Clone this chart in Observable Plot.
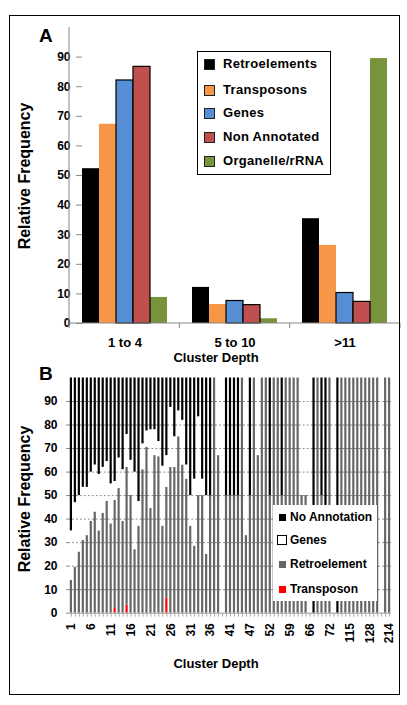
<!DOCTYPE html>
<html><head><meta charset="utf-8">
<script src="https://cdn.jsdelivr.net/npm/d3@7"></script>
<script src="https://cdn.jsdelivr.net/npm/@observablehq/plot@0.6"></script>
<style>
body{margin:0;background:#fff;font-family:"Liberation Sans",Arial,sans-serif;}
#wrap{position:relative;width:407px;height:705px;overflow:hidden;background:#fff;}
.abs{position:absolute;}
.t{position:absolute;font-weight:bold;color:#000;white-space:nowrap;font-family:"Liberation Sans",Arial,sans-serif;}
.rot{transform:translate(-50%,-50%) rotate(-90deg);}
.ctr{transform:translate(-50%,-50%);}
.sw{position:absolute;box-sizing:border-box;}
</style></head><body><div id="wrap"></div>
<script>
// ---------- Panel A data ----------
const groupsA = ["1 to 4", "5 to 10", ">11"];
const seriesA = ["Retroelements", "Transposons", "Genes", "Non Annotated", "Organelle/rRNA"];
const colorsA = ["#000000", "#F79646", "#558ED5", "#C0504D", "#77933C"];
const retroelementsA = [52.3, 12.2, 35.4];
const transposonsA = [67.3, 6.4, 26.4];
const genesA = [82.1, 7.6, 10.3];
const nonAnnotatedA = [86.7, 6.2, 7.3];
const organelleA = [8.8, 1.6, 89.5];
const yTicks = [0, 10, 20, 30, 40, 50, 60, 70, 80, 90];

// ---------- Panel B data ----------
const depthsB = ["1","2","3","4","5","6","7","8","9","10","11","12","13","14","15","16","17","18","19","20",
  "21","22","23","24","25","26","27","28","29","30","31","32","33","34","35","36","37","38","39","40",
  "41","42","43","44","46","47","48","49","50","51","52","53","54","55","57","59","60","61","63","64",
  "66","67","68","69","70","72","76","83","92","104","115","117","120","123","126","128","136","150","168","190","214"];
const typesB = ["Transposon", "Retroelement", "Genes", "No Annotation"];
const colorsB = ["#FF0000", "#666666", "#FFFFFF", "#000000"];
const transposonB = [0,0,0,0,0,0,0,0,0,0, 0,2,0,0,3.5,0,0,0,0,0, 0,0,0,0,6.5,0,0,0,0,0, 0,0,0,0,0,0,0,0,0,0,
  0,0,0,0,0,0,0,0,0,0, 0,0,0,0,0,0,0,0,0,0, 0,0,0,0,0,0,0,0,0,0, 0,0,0,0,0,0,0,0,0,0, 0];
const retroelementB = [14,19.5,26,31,33,39,43,35,42.5,47.5, 38,46,53,39,58.5,50,27,37,61,70.5,
  44.5,67,66.5,37,47,62,62,75,63,57, 37,28.5,50,50,25,50,100,67,0,50,
  50,50,50,100,33,50,100,67,100,100, 50,100,100,50,100,100,100,100,50,50,
  0,0,100,50,30,100,0,0,100,100, 100,100,100,100,100,100,100,100,0,100, 100];
const genesB = [21,27.5,24,22.5,20.5,21,20,24,19.5,17, 17,8,13,22,14,15,33,10.5,11,7,
  33.5,11,6.5,25.5,13.5,25.5,13,11,19,6, 13,28.5,33.5,7,25,0,0,33,100,0,
  0,0,0,0,67,0,0,33,0,0, 0,0,0,0,0,0,0,0,50,50,
  100,0,0,0,0,0,100,0,0,0, 0,0,0,0,0,0,0,0,100,0, 0];
const noAnnotationB = [65,53,50,46.5,46.5,40,37,41,38,35.5, 45,44,34,39,24,35,40,52.5,28,22.5,
  22,22,27,37.5,33,12.5,25,14,18,37, 50,43,16.5,43,50,50,0,0,0,50,
  50,50,50,0,0,50,0,0,0,0, 50,0,0,50,0,0,0,0,0,0,
  0,100,0,50,70,0,0,100,0,0, 0,0,0,0,0,0,0,0,0,0, 0];

const FONT = '"Liberation Sans", Arial, sans-serif';
const wrap = document.getElementById("wrap");

// ---------- Panel A ----------
const arraysA = [retroelementsA, transposonsA, genesA, nonAnnotatedA, organelleA];
const dataA = [];
groupsA.forEach((g, i) => seriesA.forEach((s, j) => dataA.push({group: g, series: s, value: arraysA[j][i]})));
const outlined = ["Genes", "Non Annotated"];

const plotA = Plot.plot({
  width: 407, height: 365,
  marginLeft: 69, marginRight: 7, marginTop: 27, marginBottom: 42,
  style: {fontFamily: FONT, fontWeight: "bold", fontSize: "12px", color: "#000", background: "transparent"},
  fx: {domain: groupsA, paddingInner: 0.23, paddingOuter: 0.115},
  x: {domain: seriesA, padding: 0, axis: null},
  y: {domain: [0, 100]},
  color: {domain: seriesA, range: colorsA},
  marks: [
    Plot.barY(dataA, {fx: "group", x: "series", y: "value", fill: "series"}),
    Plot.barY(dataA, {fx: "group", x: "series", y: "value", fill: "series", stroke: "#000", strokeWidth: 1.2,
      filter: d => outlined.includes(d.series)}),
    Plot.axisY({ticks: yTicks, tickSize: 6, tickPadding: 6, label: null, stroke: "#888", fontSize: 12}),
    Plot.axisFx({anchor: "bottom", tickSize: 0, tickPadding: 14, label: null, fontSize: 13})
  ]
});
plotA.style.position = "absolute"; plotA.style.left = "0px"; plotA.style.top = "0px";
wrap.appendChild(plotA);
// axis lines and category boundary ticks from the plot's scales
{
  const ys = plotA.scale("y");
  const fx = plotA.scale("fx");
  const y0 = ys.apply(0), y100 = ys.apply(100);
  const svg = d3.select(plotA);
  const [r0, r1] = fx.range;
  svg.append("line").attr("x1", r0).attr("x2", r0).attr("y1", y100).attr("y2", y0).attr("stroke", "#888");
  svg.append("line").attr("x1", r0).attr("x2", r1).attr("y1", y0).attr("y2", y0).attr("stroke", "#888");
  const step = (r1 - r0) / groupsA.length;
  for (let k = 0; k <= groupsA.length; k++) {
    const xx = r0 + k * step;
    svg.append("line").attr("x1", xx).attr("x2", xx).attr("y1", y0).attr("y2", y0 + 5).attr("stroke", "#888");
  }
}

// ---------- Panel B ----------
const arraysB = [transposonB, retroelementB, genesB, noAnnotationB];
const dataB = [];
typesB.forEach((t, j) => depthsB.forEach((d, i) => dataB.push({depth: d, type: t, value: arraysB[j][i]})));

const plotB = Plot.plot({
  width: 407, height: 345,
  marginLeft: 69, marginRight: 16, marginTop: 17.5, marginBottom: 92.3,
  style: {fontFamily: FONT, fontWeight: "bold", fontSize: "12px", color: "#000", background: "transparent"},
  x: {domain: depthsB, paddingInner: 0.45, paddingOuter: 0.2},
  y: {domain: [0, 100]},
  color: {domain: typesB, range: colorsB},
  marks: [
    Plot.gridY({ticks: yTicks.slice(1), stroke: "#8a8a8a", strokeOpacity: 1}),
    Plot.barY(dataB, {x: "depth", y: "value", z: "type", fill: "type"}),
    Plot.ruleY([0], {stroke: "#999"}),
    Plot.axisX({ticks: depthsB, tickSize: 4, tickFormat: () => "", label: null, stroke: "#aaa"}),
    Plot.axisX({ticks: depthsB.filter((d, i) => i % 5 === 0), tickSize: 0, tickPadding: 10, tickRotate: -90, label: null, fontSize: 12}),
    Plot.axisY({ticks: yTicks, tickSize: 3, tickPadding: 9, label: null, stroke: "#888", fontSize: 12})
  ]
});
plotB.style.position = "absolute"; plotB.style.left = "0px"; plotB.style.top = "360px";
wrap.appendChild(plotB);

// ---------- HTML text, frame, legends ----------
function addText(txt, css, cls) {
  const d = document.createElement("div");
  d.className = "t" + (cls ? " " + cls : "");
  d.textContent = txt;
  Object.assign(d.style, css);
  wrap.appendChild(d);
  return d;
}
const frame = document.createElement("div");
frame.className = "abs";
Object.assign(frame.style, {left: "9px", top: "15px", width: "391px", height: "680px", border: "1px solid #000", boxSizing: "border-box"});
wrap.appendChild(frame);

addText("A", {left: "39px", top: "26px", fontSize: "19px", lineHeight: "19px"});
addText("B", {left: "39px", top: "364px", fontSize: "19px", lineHeight: "19px"});
addText("Relative Frequency", {left: "25px", top: "176px", fontSize: "16px", lineHeight: "16px"}, "rot");
addText("Relative Frequency", {left: "25px", top: "499px", fontSize: "16px", lineHeight: "16px"}, "rot");
addText("Cluster Depth", {left: "216px", top: "357px", fontSize: "13px", lineHeight: "13px"}, "ctr");
addText("Cluster Depth", {left: "216px", top: "663px", fontSize: "13px", lineHeight: "13px"}, "ctr");

// Legend A
const legA = document.createElement("div");
legA.className = "abs";
Object.assign(legA.style, {left: "197px", top: "51px", width: "134px", height: "124px", border: "1.5px solid #000", background: "#fff", boxSizing: "border-box"});
wrap.appendChild(legA);
const rowsA = [64, 90, 113, 137, 161];
seriesA.forEach((s, i) => {
  const sw = document.createElement("div");
  sw.className = "sw";
  Object.assign(sw.style, {left: "204px", top: (rowsA[i] - 5.5) + "px", width: "11px", height: "11px", background: colorsA[i], border: "1px solid #222"});
  wrap.appendChild(sw);
  addText(s, {left: "223px", top: (rowsA[i] - 7) + "px", fontSize: "13px", lineHeight: "13px", letterSpacing: "0.3px"});
});

// Legend B
const legB = document.createElement("div");
legB.className = "abs";
Object.assign(legB.style, {left: "273px", top: "505px", width: "104px", height: "96px", background: "#fff"});
wrap.appendChild(legB);
const legBItems = ["No Annotation", "Genes", "Retroelement", "Transposon"];
const legBColors = ["#000000", "#FFFFFF", "#666666", "#FF0000"];
const rowsB = [517, 540, 564, 589];
legBItems.forEach((s, i) => {
  const sw = document.createElement("div");
  sw.className = "sw";
  if (s === "Genes") {
    Object.assign(sw.style, {left: "277px", top: (rowsB[i] - 5) + "px", width: "10px", height: "10px", background: "#fff", border: "1px solid #000"});
  } else {
    Object.assign(sw.style, {left: "279px", top: (rowsB[i] - 3.5) + "px", width: "7px", height: "7px", background: legBColors[i]});
  }
  wrap.appendChild(sw);
  addText(s, {left: "290px", top: (rowsB[i] - 6.5) + "px", fontSize: "12px", lineHeight: "12px"});
});
</script>
</body></html>
